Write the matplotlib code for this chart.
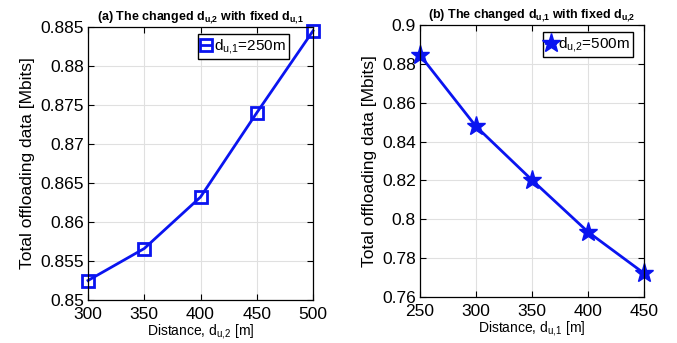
import matplotlib.pyplot as plt

plt.rcParams['font.family'] = ['Liberation Sans', 'DejaVu Sans']
plt.rcParams['mathtext.fontset'] = 'custom'
plt.rcParams['mathtext.rm'] = 'Liberation Sans'
plt.rcParams['mathtext.it'] = 'Liberation Sans'
plt.rcParams['mathtext.bf'] = 'Liberation Sans:bold'

# (a) changed d_u2, fixed d_u1 = 250 m
d_u2 = [300, 350, 400, 450, 500]
data_a = [0.8525, 0.8566, 0.8632, 0.8740, 0.8845]
yticks_a = [0.85, 0.855, 0.86, 0.865, 0.87, 0.875, 0.88, 0.885]

# (b) changed d_u1, fixed d_u2 = 500 m
d_u1 = [250, 300, 350, 400, 450]
data_b = [0.8845, 0.8478, 0.8202, 0.7935, 0.7722]
yticks_b = [0.76, 0.78, 0.8, 0.82, 0.84, 0.86, 0.88, 0.9]

fig = plt.figure(figsize=(6.77, 3.43), dpi=100)
W, H = 677, 343
ax1 = fig.add_axes([88 / W, 1 - 300 / H, 225 / W, 273 / H])
ax2 = fig.add_axes([420 / W, 1 - 297 / H, 224 / W, 272 / H])


def style(ax, xt, yt, ylim):
    ax.set_xlim(xt[0], xt[-1])
    ax.set_ylim(*ylim)
    ax.set_xticks(xt)
    ax.set_yticks(yt)
    ax.set_yticklabels([('%g' % v) for v in yt])
    ax.grid(True, color='#e0e0e0', linewidth=0.8)
    ax.set_axisbelow(True)
    ax.tick_params(direction='in', top=True, right=True, labelsize=12.5,
                   length=4, width=0.8)
    ax.tick_params(axis='x', pad=5)
    ax.tick_params(axis='y', pad=3)
    for s in ax.spines.values():
        s.set_linewidth(0.9)
    ax.set_ylabel('Total offloading data [Mbits]', fontsize=12.5, labelpad=4)
    for ln in ax.get_lines():
        ln.set_clip_on(False)


ax1.plot(d_u2, data_a, color='#0a14f0', linewidth=2, marker='s',
         markersize=8, markerfacecolor='none', markeredgewidth=2,
         label=r'd$_{\mathrm{u{,}1}}$=250m')
style(ax1, d_u2, yticks_a, (0.85, 0.885))
ax1.set_xlabel(r'Distance, d$_{\mathrm{u{,}2}}$ [m]', fontsize=10, labelpad=0)
ax1.set_title(r'(a) The changed d$_{\mathbf{u{,}2}}$ with fixed d$_{\mathbf{u{,}1}}$',
              fontsize=9, fontweight='bold', pad=5)
ax1.legend(loc='upper right', bbox_to_anchor=(0.905, 0.985), fontsize=11,
           fancybox=False, edgecolor='black', framealpha=1, handlelength=0.6,
           handletextpad=0.2, borderpad=0.2, borderaxespad=0.2)

ax2.plot(d_u1, data_b, color='#0a14f0', linewidth=2, marker='*',
         markersize=14, label=r'd$_{\mathrm{u{,}2}}$=500m')
style(ax2, d_u1, yticks_b, (0.76, 0.9))
ax2.set_xlabel(r'Distance, d$_{\mathrm{u{,}1}}$ [m]', fontsize=10, labelpad=0)
ax2.set_title(r'(b) The changed d$_{\mathbf{u{,}1}}$ with fixed d$_{\mathbf{u{,}2}}$',
              fontsize=9, fontweight='bold', pad=5)
ax2.legend(loc='upper right', bbox_to_anchor=(0.965, 0.985), fontsize=11,
           fancybox=False, edgecolor='black', framealpha=1, handlelength=0.6,
           handletextpad=0.2, borderpad=0.2, borderaxespad=0.2)

fig.savefig('out.png', dpi=100)
